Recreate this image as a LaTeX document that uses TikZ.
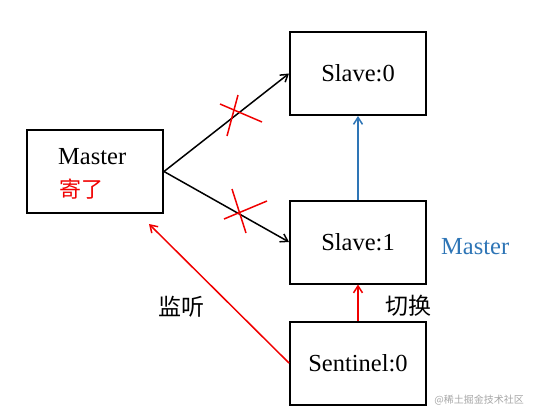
\documentclass[tikz,border=0pt]{standalone}
\usepackage{fontspec}
\setmainfont{Liberation Serif}
\newfontfamily\cjk{Noto Sans CJK SC}
\usetikzlibrary{arrows.meta}
\definecolor{mblue}{HTML}{2E75B6}
\definecolor{mred}{HTML}{F00000}
\begin{document}
\begin{tikzpicture}[x=1pt,y=-1pt,
  box/.style={draw=black,line width=2pt,minimum width=136pt,minimum height=83pt,inner sep=0pt,font=\fontsize{24.5}{28}\selectfont},
  conn/.style={line width=1.5pt,-{Straight Barb[length=7pt,width=9pt,line width=1.5pt]}},
  cross/.style={draw=mred,line width=1.5pt},
  lab/.style={font=\fontsize{23}{26}\selectfont\cjk,inner sep=0pt}]
\useasboundingbox (0,0) rectangle (535,418);
\node[box] (master) at (95,171.5) {};
\node[anchor=west,font=\fontsize{24.5}{28}\selectfont,inner sep=0pt] (mtxt) at (58,157) {Master};
\node[anchor=west,lab,text=mred,font=\fontsize{22}{26}\selectfont\cjk] (dead) at (59,189) {寄了};
\node[box] (s0) at (358,73.5) {Slave:0};
\node[box] (s1) at (358,242) {Slave:1};
\node[box] (sen) at (358,363) {Sentinel:0};
\node[anchor=west,font=\fontsize{24.5}{28}\selectfont,text=mblue,inner sep=0pt] (nm) at (441,247) {Master};
\node[lab] (qh) at (408,306) {切换};
\node[lab] (jt) at (181,307) {监听};
\node[anchor=east,font=\fontsize{10}{12}\selectfont\cjk,text=black!35,inner sep=0pt] (wm) at (524,400) {@稀土掘金技术社区};
\draw[conn] (master.east) -- (s0.west);
\draw[conn] (master.east) -- (s1.west);
\draw[conn,draw=mblue] (s1.north) -- (s0.south);
\draw[conn,draw=mred] (sen.north) -- (s1.south);
\coordinate (jtend) at (149,224);
\draw[conn,draw=mred] (sen.west) -- (jtend);
\coordinate (c1a) at (220,104); \coordinate (c1b) at (262,122);
\coordinate (c1c) at (238,95); \coordinate (c1d) at (227,136);
\draw[cross] (c1a) -- (c1b);
\draw[cross] (c1c) -- (c1d);
\coordinate (c2a) at (224,219); \coordinate (c2b) at (267,201);
\coordinate (c2c) at (232,189); \coordinate (c2d) at (246,233);
\draw[cross] (c2a) -- (c2b);
\draw[cross] (c2c) -- (c2d);
\end{tikzpicture}
\end{document}
